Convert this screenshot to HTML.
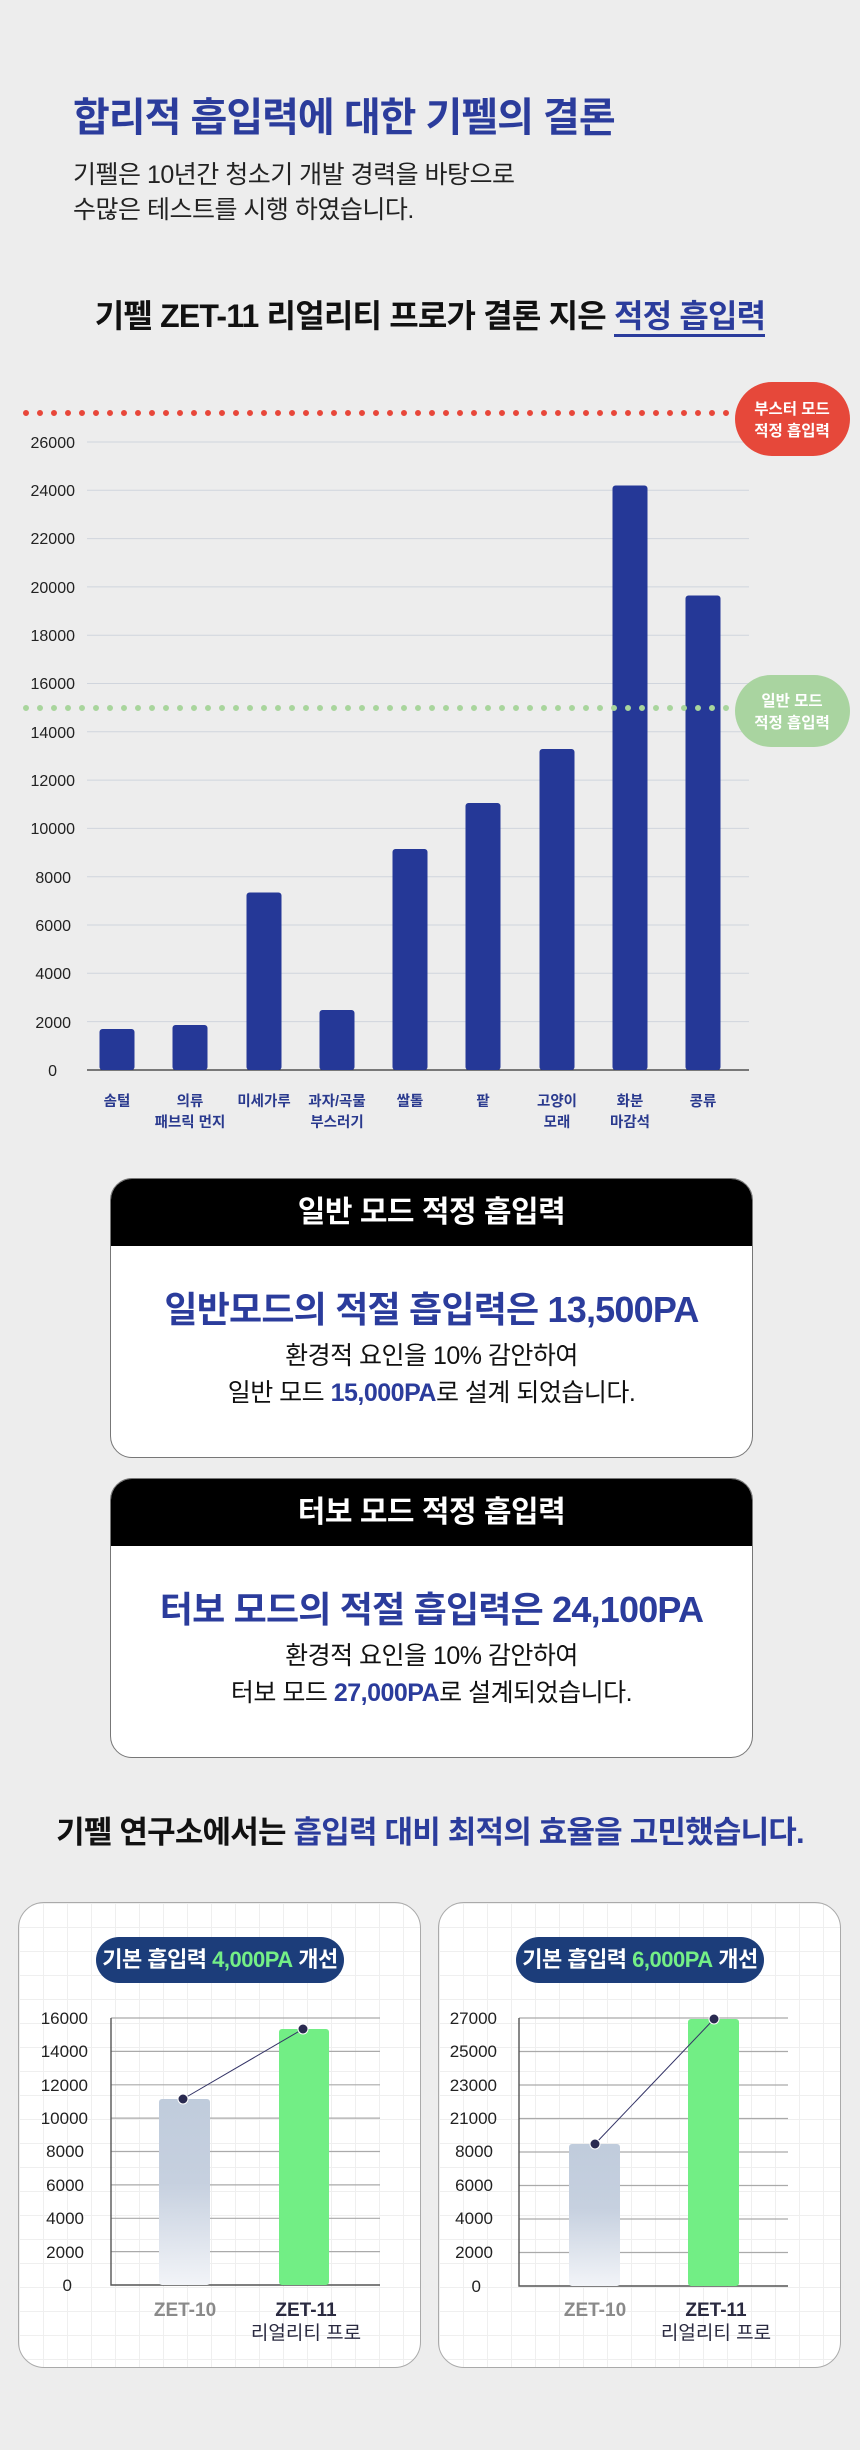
<!DOCTYPE html>
<html><head><meta charset="utf-8">
<style>
*{margin:0;padding:0;box-sizing:border-box}
body{width:860px;height:2450px;background:#ededed;position:relative;overflow:hidden;font-family:"Liberation Sans","Noto Sans CJK KR",sans-serif;color:#1a1a1a}
.a{position:absolute;white-space:nowrap}
.c{text-align:center}
.box{position:absolute;left:110px;width:643px;background:#fff;border:1.5px solid #777;border-radius:22px;overflow:hidden}
.box .hd{height:67px;background:#000;color:#fff;font-weight:700;font-size:30px;text-align:center;line-height:67px;letter-spacing:-0.5px}
.blue{color:#2b3c9c}
.card{position:absolute;top:1902px;width:403px;height:466px;border:1.5px solid #aaa;border-radius:26px;background-color:#fff;
background-image:linear-gradient(#efefef 1px,transparent 1px),linear-gradient(90deg,#efefef 1px,transparent 1px);background-size:24px 24px}
.pill{position:absolute;top:34px;left:77px;width:248px;height:46px;border-radius:23px;background:#1c3d7a;color:#fff;font-weight:700;font-size:22px;line-height:46px;text-align:center;letter-spacing:-0.5px}
.pill b{color:#74ef86}
</style></head><body>

<div class="a blue" style="left:73px;top:92px;font-size:40px;font-weight:700;letter-spacing:-1px;line-height:52px">합리적 흡입력에 대한 기펠의 결론</div>
<div class="a" style="left:73px;top:158px;font-size:25px;line-height:35px;letter-spacing:-0.5px;color:#222">기펠은 10년간 청소기 개발 경력을 바탕으로<br>수많은 테스트를 시행 하였습니다.</div>
<div class="a c" style="left:0;width:860px;top:294px;font-size:32px;font-weight:700;line-height:44px;letter-spacing:-0.8px;color:#111">기펠 ZET-11 리얼리티 프로가 결론 지은 <span class="blue" style="border-bottom:3px solid #2b3c9c">적정 흡입력</span></div>

<svg class="a" style="left:0;top:370px" width="860" height="780" viewBox="0 370 860 780">
<g stroke="#d0d5dd" stroke-width="1">
<line x1="87" x2="749" y1="442" y2="442"/><line x1="87" x2="749" y1="490.3" y2="490.3"/><line x1="87" x2="749" y1="538.6" y2="538.6"/><line x1="87" x2="749" y1="586.9" y2="586.9"/><line x1="87" x2="749" y1="635.2" y2="635.2"/><line x1="87" x2="749" y1="683.5" y2="683.5"/><line x1="87" x2="749" y1="731.8" y2="731.8"/><line x1="87" x2="749" y1="780.1" y2="780.1"/><line x1="87" x2="749" y1="828.4" y2="828.4"/><line x1="87" x2="749" y1="876.7" y2="876.7"/><line x1="87" x2="749" y1="925" y2="925"/><line x1="87" x2="749" y1="973.3" y2="973.3"/><line x1="87" x2="749" y1="1021.6" y2="1021.6"/>
</g>
<line x1="87" x2="749" y1="1070" y2="1070" stroke="#333" stroke-width="1.2"/>
<g font-size="16" fill="#222" text-anchor="end" font-family="Liberation Sans,sans-serif">
<text x="75" y="448">26000</text><text x="75" y="496">24000</text><text x="75" y="544">22000</text><text x="75" y="593">20000</text><text x="75" y="641">18000</text><text x="75" y="689">16000</text><text x="75" y="738">14000</text><text x="75" y="786">12000</text><text x="75" y="834">10000</text><text x="71" y="883">8000</text><text x="71" y="931">6000</text><text x="71" y="979">4000</text><text x="71" y="1028">2000</text><text x="57" y="1076">0</text>
</g>
<g fill="#253897">
<rect x="99.5" y="1029" width="35" height="41" rx="3"/>
<rect x="172.5" y="1025" width="35" height="45" rx="3"/>
<rect x="246.5" y="892.5" width="35" height="177.5" rx="3"/>
<rect x="319.5" y="1010" width="35" height="60" rx="3"/>
<rect x="392.5" y="849" width="35" height="221" rx="3"/>
<rect x="465.5" y="803" width="35" height="267" rx="3"/>
<rect x="539.5" y="749" width="35" height="321" rx="3"/>
<rect x="612.5" y="485.5" width="35" height="584.5" rx="3"/>
<rect x="685.5" y="595.5" width="35" height="474.5" rx="3"/>
</g>
<line x1="26" x2="730" y1="413" y2="413" stroke="#e8473a" stroke-width="6" stroke-linecap="round" stroke-dasharray="0 14"/>
<line x1="26" x2="730" y1="708" y2="708" stroke="#a8d59c" stroke-width="6" stroke-linecap="round" stroke-dasharray="0 14"/>
<rect x="735" y="382" width="115" height="74" rx="37" fill="#e6483a"/>
<rect x="735" y="675" width="115" height="72" rx="36" fill="#a9d4a0"/>
<g font-size="15.5" font-weight="700" fill="#fff" text-anchor="middle">
<text x="792" y="414">부스터 모드</text><text x="792" y="436">적정 흡입력</text>
<text x="792" y="706">일반 모드</text><text x="792" y="728">적정 흡입력</text>
</g>
<g font-size="14.5" font-weight="700" fill="#2a3a8e" text-anchor="middle">
<text x="117" y="1106">솜털</text>
<text x="190" y="1106">의류</text><text x="190" y="1127">패브릭 먼지</text>
<text x="264" y="1106">미세가루</text>
<text x="337" y="1106">과자/곡물</text><text x="337" y="1127">부스러기</text>
<text x="410" y="1106">쌀톨</text>
<text x="483" y="1106">팥</text>
<text x="557" y="1106">고양이</text><text x="557" y="1127">모래</text>
<text x="630" y="1106">화분</text><text x="630" y="1127">마감석</text>
<text x="703" y="1106">콩류</text>
</g>
</svg>

<div class="box" style="top:1178px;height:280px">
<div class="hd">일반 모드 적정 흡입력</div>
<div class="c blue" style="margin-top:42px;font-size:36px;font-weight:700;line-height:44px;letter-spacing:-0.8px">일반모드의 적절 흡입력은 13,500PA</div>
<div class="c" style="margin-top:6px;font-size:25px;line-height:37px;letter-spacing:-0.5px;color:#111">환경적 요인을 10% 감안하여<br>일반 모드 <b class="blue">15,000PA</b>로 설계 되었습니다.</div>
</div>
<div class="box" style="top:1478px;height:280px">
<div class="hd">터보 모드 적정 흡입력</div>
<div class="c blue" style="margin-top:42px;font-size:36px;font-weight:700;line-height:44px;letter-spacing:-0.8px">터보 모드의 적절 흡입력은 24,100PA</div>
<div class="c" style="margin-top:6px;font-size:25px;line-height:37px;letter-spacing:-0.5px;color:#111">환경적 요인을 10% 감안하여<br>터보 모드 <b class="blue">27,000PA</b>로 설계되었습니다.</div>
</div>

<div class="a c" style="left:0;width:860px;top:1812px;font-size:31px;font-weight:700;line-height:42px;letter-spacing:-0.8px;color:#111">기펠 연구소에서는 <span class="blue">흡입력 대비 최적의 효율을 고민했습니다.</span></div>

<div class="card" style="left:18px"><div class="pill">기본 흡입력 <b>4,000PA</b> 개선</div></div>
<div class="card" style="left:438px"><div class="pill">기본 흡입력 <b>6,000PA</b> 개선</div></div>

<svg class="a" style="left:0;top:2000px" width="860" height="360" viewBox="0 2000 860 360">
<defs><linearGradient id="g" x1="0" y1="0" x2="0" y2="1"><stop offset="0" stop-color="#c0ccdc"/><stop offset="0.45" stop-color="#c6d0df"/><stop offset="1" stop-color="#f2f4f8"/></linearGradient></defs>
<g stroke="#aaa" stroke-width="1.2">
<line x1="111" x2="380" y1="2018" y2="2018"/><line x1="111" x2="380" y1="2051.4" y2="2051.4"/><line x1="111" x2="380" y1="2084.8" y2="2084.8"/><line x1="111" x2="380" y1="2118.1" y2="2118.1"/><line x1="111" x2="380" y1="2151.5" y2="2151.5"/><line x1="111" x2="380" y1="2184.9" y2="2184.9"/><line x1="111" x2="380" y1="2218.3" y2="2218.3"/><line x1="111" x2="380" y1="2251.6" y2="2251.6"/>
<line x1="519" x2="788" y1="2018" y2="2018"/><line x1="519" x2="788" y1="2051.5" y2="2051.5"/><line x1="519" x2="788" y1="2085" y2="2085"/><line x1="519" x2="788" y1="2118.5" y2="2118.5"/><line x1="519" x2="788" y1="2152" y2="2152"/><line x1="519" x2="788" y1="2185.5" y2="2185.5"/><line x1="519" x2="788" y1="2219" y2="2219"/><line x1="519" x2="788" y1="2252.5" y2="2252.5"/>
</g>
<g stroke="#555" stroke-width="1.4" fill="none">
<polyline points="111,2018 111,2285 380,2285"/><polyline points="519,2018 519,2286 788,2286"/>
</g>
<rect x="159" y="2099" width="51" height="186" rx="3" fill="url(#g)"/>
<rect x="279" y="2029" width="50" height="256" rx="3" fill="#72ee85"/>
<rect x="569" y="2144" width="51" height="142" rx="3" fill="url(#g)"/>
<rect x="688" y="2019" width="51" height="267" rx="3" fill="#72ee85"/>
<g stroke="#333366" stroke-width="1"><line x1="183" y1="2099" x2="303" y2="2029"/><line x1="595" y1="2144" x2="714" y2="2019"/></g>
<g fill="#2a2a50" stroke="#fff" stroke-width="1"><circle cx="183" cy="2099" r="5"/><circle cx="303" cy="2029" r="5"/><circle cx="595" cy="2144" r="5"/><circle cx="714" cy="2019" r="5"/></g>
<g font-size="17" fill="#222" text-anchor="end">
<text x="88" y="2024">16000</text><text x="88" y="2057">14000</text><text x="88" y="2091">12000</text><text x="88" y="2124">10000</text><text x="84" y="2157">8000</text><text x="84" y="2191">6000</text><text x="84" y="2224">4000</text><text x="84" y="2258">2000</text><text x="72" y="2291">0</text>
<text x="497" y="2024">27000</text><text x="497" y="2057">25000</text><text x="497" y="2091">23000</text><text x="497" y="2124">21000</text><text x="493" y="2157">8000</text><text x="493" y="2191">6000</text><text x="493" y="2224">4000</text><text x="493" y="2258">2000</text><text x="481" y="2292">0</text>
</g>
<g font-size="19" font-weight="700" text-anchor="middle">
<text x="185" y="2316" fill="#8a8a8a">ZET-10</text><text x="306" y="2316" fill="#2a2a40">ZET-11</text><text x="306" y="2339" fill="#2a2a40" font-weight="400">리얼리티 프로</text>
<text x="595" y="2316" fill="#8a8a8a">ZET-10</text><text x="716" y="2316" fill="#2a2a40">ZET-11</text><text x="716" y="2339" fill="#2a2a40" font-weight="400">리얼리티 프로</text>
</g>
</svg>
</body></html>
